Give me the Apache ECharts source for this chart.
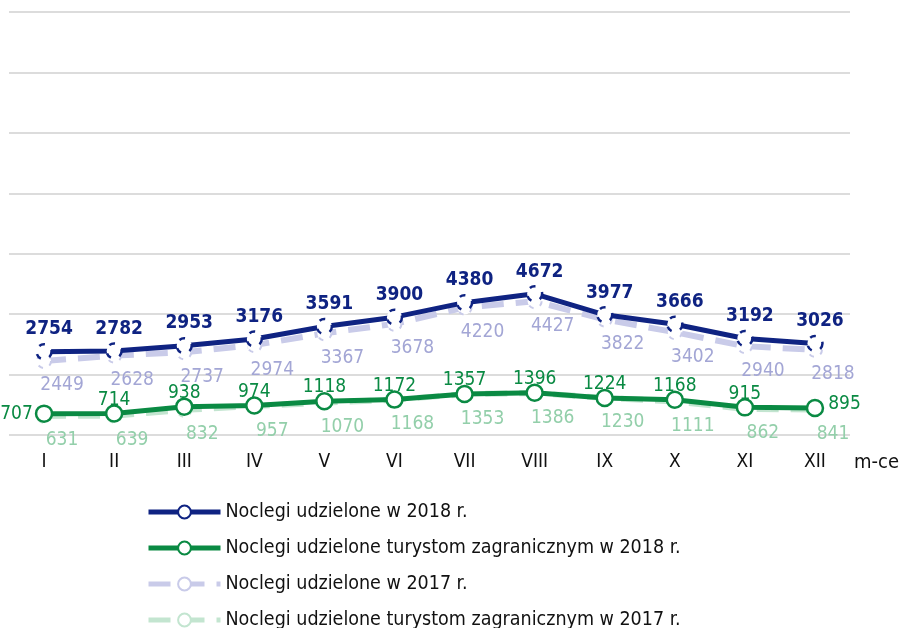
<!DOCTYPE html>
<html>
<head>
<meta charset="utf-8">
<script src="https://cdn.jsdelivr.net/npm/echarts@6/dist/echarts.min.js"></script>
<style>
  html, body { margin: 0; padding: 0; background: #fff; }
  #chart { width: 902px; height: 628px; }
</style>
</head>
<body>
<div id="chart"></div>
<script>
// miesiące
const months = ['I', 'II', 'III', 'IV', 'V', 'VI', 'VII', 'VIII', 'IX', 'X', 'XI', 'XII']

// wartości serii
const nocl2018 = [2754, 2782, 2953, 3176, 3591, 3900, 4380, 4672, 3977, 3666, 3192, 3026]
const zagr2018 = [707, 714, 938, 974, 1118, 1172, 1357, 1396, 1224, 1168, 915, 895]
const nocl2017 = [2449, 2628, 2737, 2974, 3367, 3678, 4220, 4427, 3822, 3402, 2940, 2818]
const zagr2017 = [631, 639, 832, 957, 1070, 1168, 1353, 1386, 1230, 1111, 862, 841]

const FONT = '"DejaVu Sans Condensed", "Roboto", sans-serif'

const NAVY = '#0f2382'
const GREEN = '#0a8a43'
const LAV = '#c9cbe9'
const LAV_TXT = '#a3a6d5'
const LGREEN = '#c3e5d0'
const LGREEN_TXT = '#93cfaa'

const chart = echarts.init(document.getElementById('chart'))

// zielona seria 2018 - pierwsza etykieta z lewej, ostatnia z prawej
const zagr2018Data = zagr2018.map((v, i) => {
  if (i === 0) return { value: v, label: { position: 'left', distance: 2, offset: [0, 0] } }
  if (i === zagr2018.length - 1) return { value: v, label: { position: 'right', distance: 4, offset: [0, -4] } }
  return v
})

const legendNames = [
  'Noclegi udzielone w 2018 r.',
  'Noclegi udzielone turystom zagranicznym w 2018 r.',
  'Noclegi udzielone w 2017 r.',
  'Noclegi udzielone turystom zagranicznym w 2017 r.'
]

chart.setOption({
  animation: false,
  textStyle: { fontFamily: FONT },
  grid: { left: 9, right: 45, top: 12, bottom: 193 },
  legend: {
    orient: 'vertical',
    left: 141,
    top: 497,
    height: 160,
    itemWidth: 72,
    itemHeight: 16,
    itemGap: 16,
    textStyle: { fontSize: 19.5, color: '#111', fontFamily: FONT },
    data: legendNames.map(n => ({ name: n, lineStyle: { width: 5 } }))
  },
  xAxis: {
    type: 'category',
    data: months,
    boundaryGap: true,
    axisLine: { show: false },
    axisTick: { show: false },
    axisLabel: { color: '#111', fontSize: 19, margin: 18, fontFamily: FONT },
    name: 'm-ce',
    nameLocation: 'end',
    nameGap: 4,
    nameTextStyle: {
      color: '#111', fontSize: 20, fontFamily: FONT,
      align: 'left', verticalAlign: 'top', padding: [18, 0, 0, 0]
    }
  },
  yAxis: {
    type: 'value',
    min: 0,
    max: 14000,
    interval: 2000,
    axisLabel: { show: false },
    axisLine: { show: false },
    axisTick: { show: false },
    splitLine: { lineStyle: { color: '#dcdcdc', width: 2 } }
  },
  series: [
    {
      name: legendNames[2],
      type: 'line',
      data: nocl2017,
      z: 2,
      symbol: 'circle',
      symbolSize: 14,
      lineStyle: { color: LAV, width: 6, type: [22, 12] },
      itemStyle: { color: '#fff', borderColor: LAV, borderWidth: 2, borderType: [5, 7] },
      label: {
        show: true, position: 'bottom', distance: 7, offset: [18, 0],
        color: LAV_TXT, fontSize: 19, fontFamily: FONT
      }
    },
    {
      name: legendNames[3],
      type: 'line',
      data: zagr2017,
      z: 2,
      symbol: 'circle',
      symbolSize: 14,
      lineStyle: { color: LGREEN, width: 6, type: [22, 12] },
      itemStyle: { color: '#fff', borderColor: LGREEN, borderWidth: 2, borderType: [5, 7] },
      label: {
        show: true, position: 'bottom', distance: 7, offset: [18, 0],
        color: LGREEN_TXT, fontSize: 19, fontFamily: FONT
      }
    },
    {
      name: legendNames[0],
      type: 'line',
      data: nocl2018,
      z: 3,
      symbol: 'circle',
      symbolSize: 15,
      lineStyle: { color: NAVY, width: 5 },
      itemStyle: { color: '#fff', borderColor: NAVY, borderWidth: 2.5, borderType: [6, 9] },
      label: {
        show: true, position: 'top', distance: 4, offset: [5, 0],
        color: NAVY, fontSize: 19, fontWeight: 'bold', fontFamily: FONT
      }
    },
    {
      name: legendNames[1],
      type: 'line',
      data: zagr2018Data,
      z: 3,
      symbol: 'circle',
      symbolSize: 16,
      lineStyle: { color: GREEN, width: 5 },
      itemStyle: { color: '#fff', borderColor: GREEN, borderWidth: 2.5 },
      label: {
        show: true, position: 'top', distance: 0, offset: [0, 5],
        color: GREEN, fontSize: 19, fontFamily: FONT
      }
    }
  ]
})
</script>
</body>
</html>
